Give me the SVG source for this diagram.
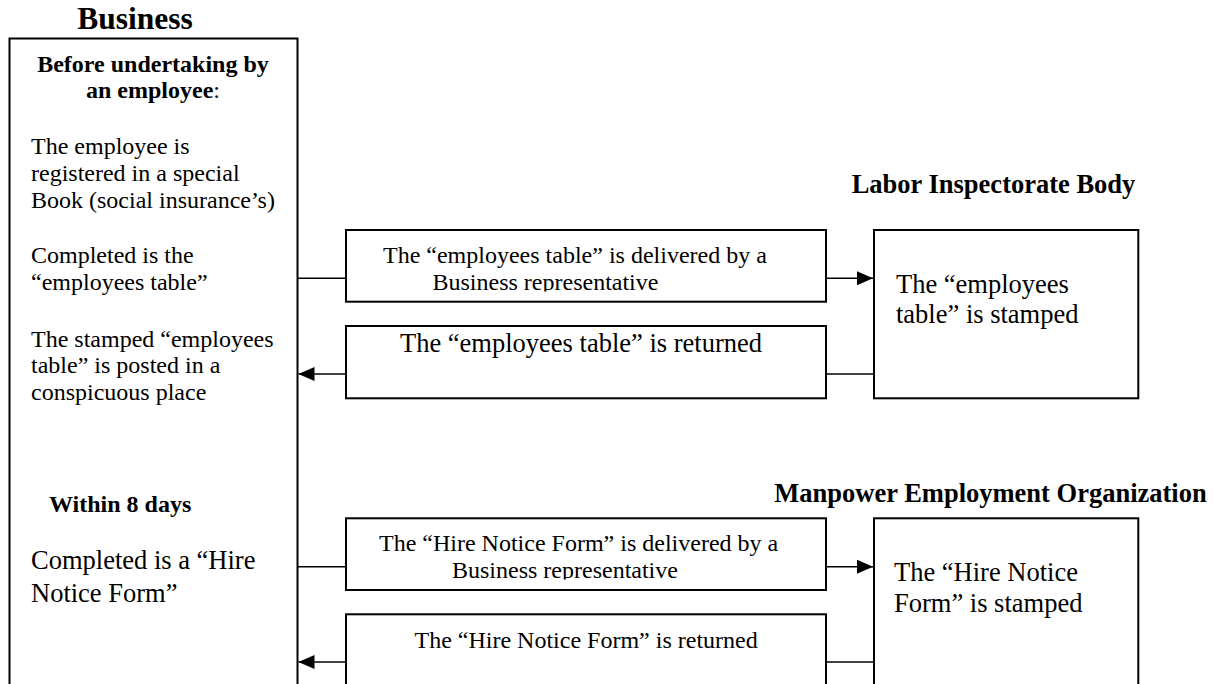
<svg xmlns="http://www.w3.org/2000/svg" width="1221" height="684" viewBox="0 0 1221 684">
<style>
  .box { fill: #fff; stroke: #000; stroke-width: 2; }
  .t { font-family: "Liberation Serif", "Times New Roman", serif; fill: #000; }
  .b { font-weight: bold; }
  .s24 { font-size: 24px; }
  .s26 { font-size: 26.5px; }
  .conn { stroke: #000; stroke-width: 1.6; fill: none; }
</style>
<defs>
  <marker id="arr" markerWidth="16" markerHeight="14" refX="16" refY="7" orient="auto" markerUnits="userSpaceOnUse">
    <path d="M0,0 L16,7 L0,14 Z" fill="#000"/>
  </marker>
  <clipPath id="clip1"><rect x="346" y="230" width="480" height="61.5"/></clipPath>
  <clipPath id="clip3"><rect x="346" y="518" width="480" height="61.5"/></clipPath>
</defs>
<rect width="1221" height="684" fill="#fff"/>

<g id="business">
  <text class="t b" x="135" y="29.3" font-size="31.5" text-anchor="middle">Business</text>
  <rect class="box" x="9.5" y="38.5" width="288" height="680"/>
  <text class="t b s24" x="153" y="72" text-anchor="middle">Before undertaking by</text>
  <text class="t s24" x="153" y="98.3" text-anchor="middle"><tspan font-weight="bold">an employee</tspan>:</text>
  <text class="t s24" x="31" y="154.3">The employee is</text>
  <text class="t s24" x="31" y="181">registered in a special</text>
  <text class="t s24" x="31" y="207.7">Book (social insurance’s)</text>
  <text class="t s24" x="31" y="263.3">Completed is the</text>
  <text class="t s24" x="31" y="290">“employees table”</text>
  <text class="t s24" x="31" y="346.7">The stamped “employees</text>
  <text class="t s24" x="31" y="373.3">table” is posted in a</text>
  <text class="t s24" x="31" y="400">conspicuous place</text>
  <text class="t b s24" x="49" y="511.7">Within 8 days</text>
  <text class="t s26" x="31" y="569.3">Completed is a “Hire</text>
  <text class="t s26" x="31" y="601.7">Notice Form”</text>
</g>

<g id="labor-title">
  <text class="t b s26" x="851.7" y="193.3">Labor Inspectorate Body</text>
</g>

<g id="manpower-title">
  <text class="t b s26" x="1206.7" y="501.7" text-anchor="end">Manpower Employment Organization</text>
</g>

<g id="table-delivered">
  <rect class="box" x="346" y="230" width="480" height="71.7"/>
  <g clip-path="url(#clip1)">
    <text class="t s24" x="383" y="262.5">The “employees table” is delivered by a</text>
    <text class="t s24" x="432.5" y="289.5">Business representative</text>
  </g>
</g>

<g id="table-returned">
  <rect class="box" x="346" y="326" width="480" height="72.3"/>
  <text class="t s26" x="400" y="351.7">The “employees table” is returned</text>
</g>

<g id="table-stamped">
  <rect class="box" x="874" y="230" width="264.3" height="168.3"/>
  <text class="t s26" x="896" y="293.3">The “employees</text>
  <text class="t s26" x="896" y="323.3">table” is stamped</text>
</g>

<g id="form-delivered">
  <rect class="box" x="346" y="518.3" width="480" height="71.7"/>
  <g clip-path="url(#clip3)">
    <text class="t s24" x="379" y="550.5">The “Hire Notice Form” is delivered by a</text>
    <text class="t s24" x="452" y="577.5">Business representative</text>
  </g>
</g>

<g id="form-returned">
  <rect class="box" x="346" y="614.3" width="480" height="100"/>
  <text class="t s24" x="414.5" y="648.3">The “Hire Notice Form” is returned</text>
</g>

<g id="form-stamped">
  <rect class="box" x="874" y="518.3" width="264.3" height="200"/>
  <text class="t s26" x="894" y="580.5">The “Hire Notice</text>
  <text class="t s26" x="894" y="611.5">Form” is stamped</text>
</g>

<g id="connectors">
  <line class="conn" x1="297.5" y1="278.3" x2="346" y2="278.3"/>
  <line class="conn" x1="826" y1="278.3" x2="873" y2="278.3" marker-end="url(#arr)"/>
  <line class="conn" x1="874" y1="374" x2="826" y2="374"/>
  <line class="conn" x1="346" y1="374" x2="298.5" y2="374" marker-end="url(#arr)"/>
  <line class="conn" x1="297.5" y1="566.7" x2="346" y2="566.7"/>
  <line class="conn" x1="826" y1="566.7" x2="873" y2="566.7" marker-end="url(#arr)"/>
  <line class="conn" x1="874" y1="662" x2="826" y2="662"/>
  <line class="conn" x1="346" y1="662" x2="298.5" y2="662" marker-end="url(#arr)"/>
</g>
</svg>
